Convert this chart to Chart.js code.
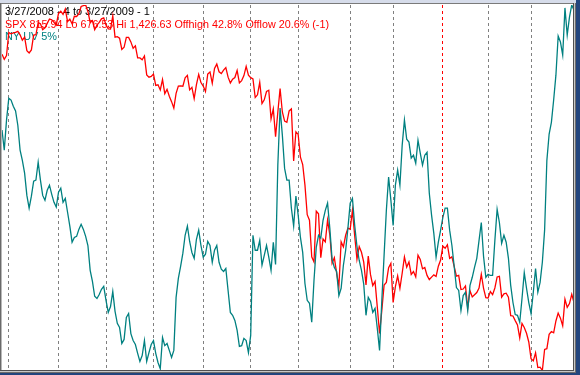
<!DOCTYPE html>
<html>
<head>
<meta charset="utf-8">
<script src="https://cdn.jsdelivr.net/npm/chart.js@4.4.1/dist/chart.umd.min.js"></script>
<style>
  html, body { margin: 0; padding: 0; background: #ffffff; }
  #wrap { width: 580px; height: 375px; }
</style>
</head>
<body>
<div id="wrap"><canvas id="uvChart" width="580" height="375"></canvas></div>
<script>
// SPX daily closes, 3/27/2008 .. 3/27/2009 (one value per trading day)
const spxClose = [
  1325.76, 1315.22, 1322.70,
  // Apr 08
  1370.18, 1367.53, 1369.31, 1370.40, 1372.54, 1365.54, 1354.49, 1360.55, 1332.83, 1328.32, 1334.43,
  1364.71, 1365.56, 1390.33, 1388.17, 1375.94, 1379.93, 1388.82, 1397.84, 1396.37, 1390.94, 1385.59,
  // May
  1409.34, 1413.90, 1407.49, 1418.26, 1392.57, 1397.68, 1388.28, 1403.58, 1403.04, 1408.66, 1423.57,
  1425.35, 1426.63, 1413.40, 1390.71, 1394.35, 1375.93, 1385.35, 1390.84, 1398.26, 1400.38,
  // Jun
  1385.67, 1377.65, 1377.20, 1404.05, 1360.68, 1361.76, 1358.44, 1335.49, 1339.87, 1360.03, 1360.14,
  1350.93, 1337.81, 1342.83, 1317.93, 1318.00, 1314.29, 1321.97, 1283.15, 1278.38, 1280.00,
  // Jul
  1284.91, 1261.52, 1262.90, 1252.31, 1273.70, 1244.69, 1253.39, 1239.49, 1228.30, 1214.91, 1245.36,
  1260.32, 1260.68, 1260.00, 1277.00, 1282.19, 1252.54, 1257.76, 1234.37, 1263.20, 1284.26, 1267.38,
  // Aug
  1260.31, 1249.01, 1284.88, 1289.19, 1266.07, 1296.32, 1305.32, 1289.59, 1285.83, 1292.93, 1298.20,
  1278.60, 1266.69, 1274.54, 1277.72, 1292.20, 1266.84, 1271.51, 1281.66, 1300.68, 1282.83,
  // Sep
  1277.58, 1274.98, 1236.83, 1242.31, 1267.79, 1224.51, 1232.04, 1249.05, 1251.70, 1192.70, 1213.60,
  1156.39, 1206.51, 1255.08, 1207.09, 1188.22, 1185.87, 1209.18, 1213.27, 1106.39, 1166.36,
  // Oct
  1161.06, 1114.28, 1099.23, 1056.89, 996.23, 984.94, 909.92, 899.22, 1003.35, 998.01, 907.84, 946.43,
  940.55, 985.40, 955.05, 896.78, 908.11, 876.77, 848.92, 940.51, 930.09, 954.09, 968.75,
  // Nov
  966.30, 1005.75, 952.77, 904.88, 930.99, 919.21, 898.95, 852.30, 911.29, 873.29, 850.75, 859.12,
  806.58, 752.44, 800.03, 851.81, 857.39, 887.68, 896.24,
  // Dec
  816.21, 848.81, 870.74, 845.22, 876.07, 909.70, 888.67, 899.24, 873.59, 879.73, 868.57, 913.18,
  904.42, 885.28, 887.88, 871.63, 863.16, 868.15, 872.80, 869.42, 890.64, 903.25,
  // Jan 09
  931.80, 927.45, 934.70, 906.65, 909.73, 890.35, 870.26, 871.79, 842.62, 843.74, 850.12, 805.22,
  840.24, 827.50, 831.95, 836.57, 845.71, 874.09, 845.14, 825.88,
  // Feb
  825.44, 838.51, 832.23, 845.85, 868.60, 869.89, 827.16, 833.74, 835.19, 826.84, 789.17, 788.42,
  778.94, 770.05, 743.33, 773.14, 764.90, 752.83, 735.09,
  // Mar
  700.82, 696.33, 712.87, 682.55, 683.38, 676.53, 719.60, 721.36, 750.74, 756.55, 753.89, 778.12,
  794.35, 784.04, 768.54, 822.92, 806.12, 813.88, 832.86, 815.94
];

// NY UV 5% (scaled 0..100 over the window)
const nyUv = [
  65.8, 60.3, 68.5, 74.5, 74.0, 72.3, 71.0, 67.1, 60.3, 57.5,
  54.0, 47.9, 44.4, 47.7, 51.8, 52.1, 57.0, 52.1, 47.9, 46.6,
  49.3, 50.7, 48.2, 46.0, 44.7, 48.8, 49.9, 46.0, 47.1, 43.3,
  39.5, 35.1, 36.4, 36.7, 38.6, 40.0, 38.6, 36.7, 34.2, 27.4,
  24.4, 20.3, 19.7, 20.8, 22.2, 23.0, 19.2, 15.9, 17.5, 21.6,
  16.2, 12.9, 11.8, 7.4, 8.5, 14.5, 15.6, 10.1, 8.2, 7.1,
  4.7, 2.5, 4.1, 8.2, 2.5, 4.9, 7.1, 8.2, 4.7, 2.2,
  0.5, 9.0, 6.8, 7.4, 5.5, 3.6, 5.5, 20.0, 25.2, 28.5,
  32.1, 37.0, 39.5, 35.3, 32.3, 30.7, 35.9, 38.4, 34.2, 31.0,
  31.8, 35.3, 34.2, 29.6, 32.9, 34.2, 29.6, 27.7, 27.1, 27.9,
  21.9, 15.9, 15.1, 13.7, 11.0, 6.6, 6.8, 8.8, 8.2, 4.9,
  9.6, 37.0, 32.9, 32.9, 35.6, 28.8, 31.5, 34.2, 31.0, 27.4,
  35.1, 29.0, 56.2, 71.8, 64.4, 55.3, 52.1, 52.1, 44.4, 39.5,
  47.7, 42.5, 36.4, 32.3, 23.8, 19.2, 18.4, 13.2, 24.7, 33.7,
  37.0, 36.2, 41.1, 43.8, 45.8, 38.9, 30.4, 28.2, 27.1, 20.5,
  22.5, 28.8, 32.9, 38.9, 45.8, 47.1, 39.7, 34.0, 30.1, 27.4,
  23.6, 15.1, 20.0, 18.9, 15.9, 17.0, 11.5, 5.5, 19.2, 31.5,
  43.8, 52.9, 46.6, 39.7, 50.7, 54.8, 50.7, 61.6, 68.5, 63.3,
  62.5, 58.1, 58.9, 56.7, 63.0, 59.5, 56.2, 58.9, 59.7, 48.5,
  42.5, 37.5, 31.0, 35.1, 38.4, 41.9, 44.4, 44.4, 38.4, 34.2,
  28.5, 22.7, 21.9, 16.4, 20.5, 21.4, 16.4, 23.3, 25.5, 28.2,
  30.7, 35.6, 40.5, 31.2, 25.5, 26.3, 26.0, 26.0, 35.6, 44.1,
  40.5, 34.8, 37.0, 35.1, 30.7, 23.3, 18.6, 15.3, 15.1, 13.2,
  19.7, 26.8, 22.5, 18.6, 15.6, 21.4, 27.9, 21.4, 24.1, 29.6,
  38.4, 57.5, 64.7, 67.9, 74.0, 80.8, 91.5, 89.9, 86.3, 99.2,
  91.8, 96.7, 100.0, 98.6
];

// trading-day index of the first session of each month (Apr 08 .. Mar 09)
const monthStarts = [3, 25, 46, 67, 89, 110, 131, 154, 173, 195, 215, 234];
const yearStart = 195;

const dayIndex = spxClose.map((v, i) => i);

// header texts
const spxLast = spxClose[spxClose.length - 1];
const spxLo = Math.min(...spxClose);
const spxHi = Math.max(...spxClose);
const offHigh = (1 - spxLast / spxHi) * 100;
const offLow = (spxLast / spxLo - 1) * 100;
const headerLines = [
  { text: '3/27/2008 - 4 to 3/27/2009 - 1', color: '#000000', y: 15, maxW: 148 },
  { text: 'SPX ' + spxLast.toFixed(2) + ' Lo ' + spxLo.toFixed(2) + ' Hi ' +
      spxHi.toLocaleString('en-US', { minimumFractionDigits: 2 }) +
      ' Offhigh ' + offHigh.toFixed(1) + '% Offlow ' + offLow.toFixed(1) + '% (-1)',
    color: '#ff0000', y: 27.5, maxW: 324 },
  { text: 'NY UV 5%', color: '#008080', y: 40, maxW: 52 }
];

// window frame + white plot background
const framePlugin = {
  id: 'frame',
  beforeDraw(chart) {
    const ctx = chart.ctx;
    ctx.save();
    ctx.fillStyle = '#ffffff';
    ctx.fillRect(0, 0, 580, 375);
    ctx.restore();
  },
  beforeDatasetsDraw(chart) {
    const ctx = chart.ctx;
    ctx.save();
    ctx.font = '11px "Liberation Sans", Arial, sans-serif';
    ctx.textBaseline = 'alphabetic';
    headerLines.forEach(l => {
      ctx.fillStyle = l.color;
      ctx.fillText(l.text, 5, l.y, l.maxW);
    });
    ctx.restore();
  },
  afterDraw(chart) {
    const ctx = chart.ctx;
    ctx.save();
    // top strip
    ctx.fillStyle = '#d6dcea';
    ctx.fillRect(0, 0, 580, 3);
    ctx.fillStyle = '#7a7a7a';
    ctx.fillRect(0, 3, 580, 1);
    // left edge
    ctx.fillStyle = '#6a6a6a';
    ctx.fillRect(0, 3, 1, 372);
    ctx.fillStyle = '#b8b8b8';
    ctx.fillRect(1, 4, 1, 367);
    // right edge
    ctx.fillStyle = '#505050';
    ctx.fillRect(573, 3, 1, 370);
    ctx.fillStyle = '#c8c8c8';
    ctx.fillRect(574, 3, 1, 370);
    ctx.fillStyle = '#6c6c6c';
    ctx.fillRect(575, 3, 1, 371);
    ctx.fillStyle = '#23457d';
    ctx.fillRect(576, 0, 4, 375);
    // bottom edge
    ctx.fillStyle = '#505050';
    ctx.fillRect(0, 370, 574, 1);
    ctx.fillStyle = '#c8c8c8';
    ctx.fillRect(0, 371, 575, 1);
    ctx.fillStyle = '#6c6c6c';
    ctx.fillRect(0, 372, 576, 1);
    ctx.fillStyle = '#23457d';
    ctx.fillRect(0, 373, 580, 2);
    ctx.restore();
  }
};

const ctx = document.getElementById('uvChart').getContext('2d');
const uvChart = new Chart(ctx, {
  type: 'line',
  data: {
    datasets: [{
      label: 'NY UV 5%',
      data: dayIndex.map((d, i) => ({ x: d, y: nyUv[i] })),
      borderColor: '#008080',
      borderWidth: 1.3,
      pointRadius: 0,
      tension: 0,
      yAxisID: 'yUv'
    }, {
      label: 'SPX',
      data: dayIndex.map((d, i) => ({ x: d, y: spxClose[i] })),
      borderColor: '#ff0000',
      borderWidth: 1.3,
      pointRadius: 0,
      tension: 0,
      yAxisID: 'ySpx'
    }]
  },
  options: {
    responsive: false,
    animation: false,
    devicePixelRatio: 1,
    layout: {
      padding: { left: 2, right: 6, top: 5, bottom: 4.5 }
    },
    plugins: {
      legend: { display: false },
      tooltip: { enabled: false }
    },
    scales: {
      x: {
        type: 'linear',
        min: 0,
        max: dayIndex.length - 1,
        afterBuildTicks: axis => {
          axis.ticks = monthStarts.map(v => ({ value: v }));
        },
        ticks: { display: false },
        grid: {
          drawTicks: false,
          lineWidth: 1,
          color: c => (c.tick && c.tick.value === yearStart) ? '#ff0000' : '#808080'
        },
        border: { display: false, dash: [3, 3] }
      },
      ySpx: {
        display: false,
        min: spxLo,
        max: spxHi
      },
      yUv: {
        display: false,
        min: 0,
        max: 100
      }
    }
  },
  plugins: [framePlugin]
});
</script>
</body>
</html>
